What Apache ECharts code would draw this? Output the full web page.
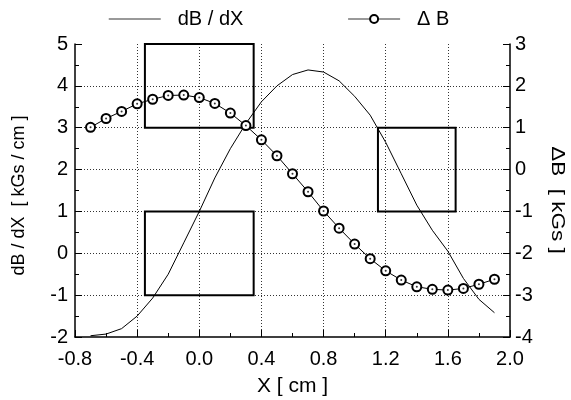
<!DOCTYPE html>
<html>
<head>
<meta charset="utf-8">
<script src="https://cdn.jsdelivr.net/npm/echarts@6/dist/echarts.min.js"></script>
<style>
html, body { margin: 0; padding: 0; background: #fff; }
#main { width: 571px; height: 400px; }
</style>
</head>
<body>
<div id="main"></div>
<script>
var xs = [-0.7, -0.6, -0.5, -0.4, -0.3, -0.2, -0.1, 0.0, 0.1, 0.2, 0.3, 0.4, 0.5, 0.6, 0.7, 0.8, 0.9, 1.0, 1.1, 1.2, 1.3, 1.4, 1.5, 1.6, 1.7, 1.8, 1.9];
var dBdX = [-1.97, -1.93, -1.80, -1.50, -1.07, -0.50, 0.25, 1.00, 1.80, 2.50, 3.10, 3.62, 4.00, 4.27, 4.38, 4.33, 4.12, 3.75, 3.30, 2.65, 1.90, 1.15, 0.55, 0.05, -0.60, -1.10, -1.42];
var deltaB = [1.01, 1.22, 1.39, 1.57, 1.68, 1.77, 1.78, 1.72, 1.58, 1.35, 1.05, 0.71, 0.33, -0.10, -0.53, -0.99, -1.40, -1.78, -2.13, -2.42, -2.64, -2.80, -2.86, -2.88, -2.84, -2.74, -2.62];
// boxes: [x1, x2, y1, y2] on the left axis
var boxes = [[-0.35, 0.35, 3, 5], [-0.35, 0.35, -1, 1], [1.15, 1.65, 1, 3]];

var font = 'Liberation Sans, Arial, sans-serif';
var myChart = echarts.init(document.getElementById('main'), null, { renderer: 'canvas' });

function pairs(ys) {
	var out = [];
	for (var i = 0; i < xs.length; i++) out.push([xs[i], ys[i]]);
	return out;
}

var axisCommon = {
	axisLine: { show: true, onZero: false, lineStyle: { color: '#000', width: 1.5 } },
	axisTick: { show: true, inside: true, length: 7, lineStyle: { color: '#000', width: 1 } },
	minorTick: { show: true, splitNumber: 2, length: 4, lineStyle: { color: '#000', width: 1 } },
	axisLabel: { color: '#000', fontFamily: font, fontSize: 20 },
	nameTextStyle: { color: '#000', fontFamily: font, fontSize: 18 }
};
var gridLine = { show: true, showMinLine: false, showMaxLine: false, lineStyle: { color: '#333', type: [1, 2], width: 1 } };

var option = {
	animation: false,
	backgroundColor: '#fff',
	legend: {
		left: 103,
		top: 4,
		itemWidth: 52,
		itemHeight: 10,
		itemGap: 104,
		lineStyle: { color: '#777', width: 1.5 },
		textStyle: { color: '#000', fontFamily: font, fontSize: 20, padding: [0, 0, 0, 12] },
		data: [
			{ name: 'dB / dX', itemStyle: { opacity: 0 } },
			{ name: 'Δ B' }
		]
	},
	grid: { left: 75, right: 61, top: 44, bottom: 63, outerBoundsMode: 'none', containLabel: false },
	// right axis title, slightly stretched along its length like the original
	graphic: [{
		type: 'text',
		x: 557,
		y: 200,
		rotation: -Math.PI / 2,
		scaleX: 1.25,
		silent: true,
		style: { text: 'ΔB  [ kGs ]', fontFamily: font, fontSize: 18, fill: '#000', align: 'center', verticalAlign: 'middle' }
	}],
	xAxis: Object.assign({}, axisCommon, {
		type: 'value',
		min: -0.8,
		max: 2.0,
		interval: 0.4,
		name: 'X [ cm ]',
		nameLocation: 'middle',
		nameGap: 39,
		nameTextStyle: { color: '#000', fontFamily: font, fontSize: 21 },
		axisLabel: Object.assign({}, axisCommon.axisLabel, {
			margin: 12,
			formatter: function (v) { return v.toFixed(1); }
		}),
		splitLine: gridLine
	}),
	yAxis: [
		Object.assign({}, axisCommon, {
			type: 'value',
			min: -2,
			max: 5,
			interval: 1,
			position: 'left',
			name: 'dB / dX  [ kGs / cm ]',
			nameLocation: 'middle',
			nameGap: 47,
			nameTextStyle: { color: '#000', fontFamily: font, fontSize: 18, padding: [0, 10, 0, 0] },
			axisLabel: Object.assign({}, axisCommon.axisLabel, { margin: 7 }),
			splitLine: gridLine
		}),
		Object.assign({}, axisCommon, {
			type: 'value',
			min: -4,
			max: 3,
			interval: 1,
			position: 'right',
			axisLabel: Object.assign({}, axisCommon.axisLabel, { margin: 5 }),
			splitLine: { show: false }
		})
	],
	series: [
		{
			name: 'boxes',
			type: 'custom',
			silent: true,
			renderItem: function (params, api) {
				var p1 = api.coord([api.value(0), api.value(3)]);
				var p2 = api.coord([api.value(1), api.value(2)]);
				return {
					type: 'rect',
					shape: { x: p1[0], y: p1[1], width: p2[0] - p1[0], height: p2[1] - p1[1] },
					style: { fill: 'none', stroke: '#000', lineWidth: 2 }
				};
			},
			encode: { x: [0, 1], y: [2, 3] },
			data: boxes,
			z: 1
		},
		{
			name: 'dB / dX',
			type: 'line',
			yAxisIndex: 0,
			data: pairs(dBdX),
			symbol: 'none',
			lineStyle: { color: '#000', width: 1 },
			itemStyle: { color: '#000' },
			z: 3
		},
		{
			name: 'Δ B',
			type: 'line',
			yAxisIndex: 1,
			data: pairs(deltaB),
			symbol: 'emptyCircle',
			symbolSize: 9,
			lineStyle: { color: '#000', width: 1 },
			itemStyle: { color: '#000', borderColor: '#000', borderWidth: 1 },
			z: 4
		},
		{
			// centre dots of the ΔB markers
			name: 'dots',
			type: 'scatter',
			yAxisIndex: 1,
			data: pairs(deltaB),
			symbol: 'circle',
			symbolSize: 2,
			silent: true,
			itemStyle: { color: '#000' },
			z: 5
		}
	]
};

myChart.setOption(option);
</script>
</body>
</html>
